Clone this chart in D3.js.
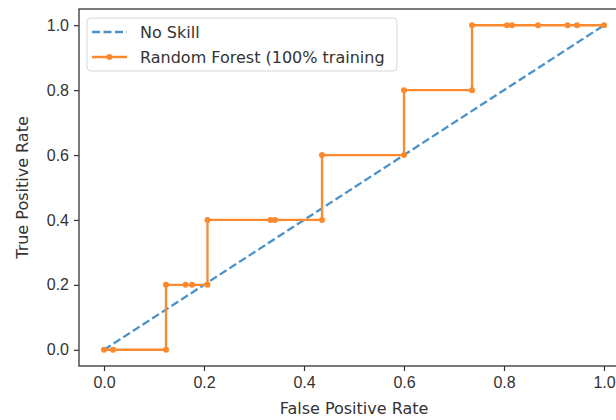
<!DOCTYPE html>
<html>
<head>
<meta charset="utf-8">
<script src="https://cdn.jsdelivr.net/npm/d3@7"></script>
<style>
  body { margin: 0; background: #fff; }
  svg { display: block; font-family: "DejaVu Sans", sans-serif; }
</style>
</head>
<body>
<div id="chart"></div>
<script>
// ROC data
const fpr = [0, 0.018, 0.124, 0.124, 0.163, 0.176, 0.207, 0.207, 0.333, 0.342, 0.436, 0.436,
             0.6, 0.6, 0.736, 0.736, 0.806, 0.816, 0.868, 0.927, 0.946, 1.0];
const tpr = [0, 0, 0, 0.2, 0.2, 0.2, 0.2, 0.4, 0.4, 0.4, 0.4, 0.6,
             0.6, 0.8, 0.8, 1.0, 1.0, 1.0, 1.0, 1.0, 1.0, 1.0];
const noSkillX = [0, 1];
const noSkillY = [0, 1];
const tickValues = [0, 0.2, 0.4, 0.6, 0.8, 1.0];
const seriesNames = ["No Skill", "Random Forest (100% training"];

const width = 616, height = 420;
const plot = {left: 79, right: 629, top: 9, bottom: 366};
const fontSize = "16px";

const svg = d3.select("#chart").append("svg")
  .attr("width", width)
  .attr("height", height);

const x = d3.scaleLinear().domain([-0.05, 1.05]).range([plot.left, plot.right]);
const y = d3.scaleLinear().domain([-0.05, 1.05]).range([plot.bottom, plot.top]);

const blue = "#4b92c8";
const orange = "#fb8a2e";

// axes
const xAxis = d3.axisBottom(x).tickValues(tickValues).tickFormat(d3.format(".1f")).tickSize(5).tickPadding(6);
const yAxis = d3.axisLeft(y).tickValues(tickValues).tickFormat(d3.format(".1f")).tickSize(5).tickPadding(5);

const gx = svg.append("g")
  .attr("transform", `translate(0,${plot.bottom})`)
  .call(xAxis);
gx.select(".domain").remove();

const gy = svg.append("g")
  .attr("transform", `translate(${plot.left},0)`)
  .call(yAxis);
gy.select(".domain").remove();

svg.selectAll(".tick line").attr("stroke", "#333").attr("stroke-width", 1.2);
svg.selectAll(".tick text").attr("fill", "#333").style("font-size", fontSize);

// lines
const line = d3.line().x(d => x(d[0])).y(d => y(d[1]));

svg.append("path")
  .datum(d3.zip(noSkillX, noSkillY))
  .attr("d", line)
  .attr("fill", "none")
  .attr("stroke", blue)
  .attr("stroke-width", 2.3)
  .attr("stroke-dasharray", "8,3.5");

const rf = d3.zip(fpr, tpr);
svg.append("path")
  .datum(rf)
  .attr("d", line)
  .attr("fill", "none")
  .attr("stroke", orange)
  .attr("stroke-width", 2.3);

svg.append("g")
  .selectAll("circle")
  .data(rf)
  .enter().append("circle")
    .attr("cx", d => x(d[0]))
    .attr("cy", d => y(d[1]))
    .attr("r", 3)
    .attr("fill", orange);

// frame
svg.append("rect")
  .attr("x", plot.left)
  .attr("y", plot.top)
  .attr("width", plot.right - plot.left)
  .attr("height", plot.bottom - plot.top)
  .attr("fill", "none")
  .attr("stroke", "#333")
  .attr("stroke-width", 1.3);

// axis labels
svg.append("text")
  .attr("x", (plot.left + plot.right) / 2)
  .attr("y", 414)
  .attr("text-anchor", "middle")
  .attr("fill", "#333")
  .style("font-size", fontSize)
  .text("False Positive Rate");

svg.append("text")
  .attr("transform", `translate(28,${(plot.top + plot.bottom) / 2}) rotate(-90)`)
  .attr("text-anchor", "middle")
  .attr("fill", "#333")
  .style("font-size", fontSize)
  .text("True Positive Rate");

// legend
const legend = svg.append("g").attr("transform", "translate(87,18)");
legend.append("rect")
  .attr("width", 310)
  .attr("height", 53)
  .attr("rx", 4)
  .attr("fill", "white")
  .attr("fill-opacity", 0.8)
  .attr("stroke", "#d6d6d6");

const rows = legend.selectAll("g.row")
  .data(seriesNames)
  .enter().append("g")
    .attr("class", "row")
    .attr("transform", (d, i) => `translate(0,${14 + i * 25})`);

rows.append("line")
  .attr("x1", 5).attr("x2", 40)
  .attr("stroke", (d, i) => i === 0 ? blue : orange)
  .attr("stroke-width", 2.3)
  .attr("stroke-dasharray", (d, i) => i === 0 ? "8,3.5" : null);

rows.filter((d, i) => i === 1).append("circle")
  .attr("cx", 22.5)
  .attr("r", 3)
  .attr("fill", orange);

rows.append("text")
  .attr("x", 53)
  .attr("dy", "0.35em")
  .attr("fill", "#333")
  .style("font-size", fontSize)
  .text(d => d);
</script>
</body>
</html>
